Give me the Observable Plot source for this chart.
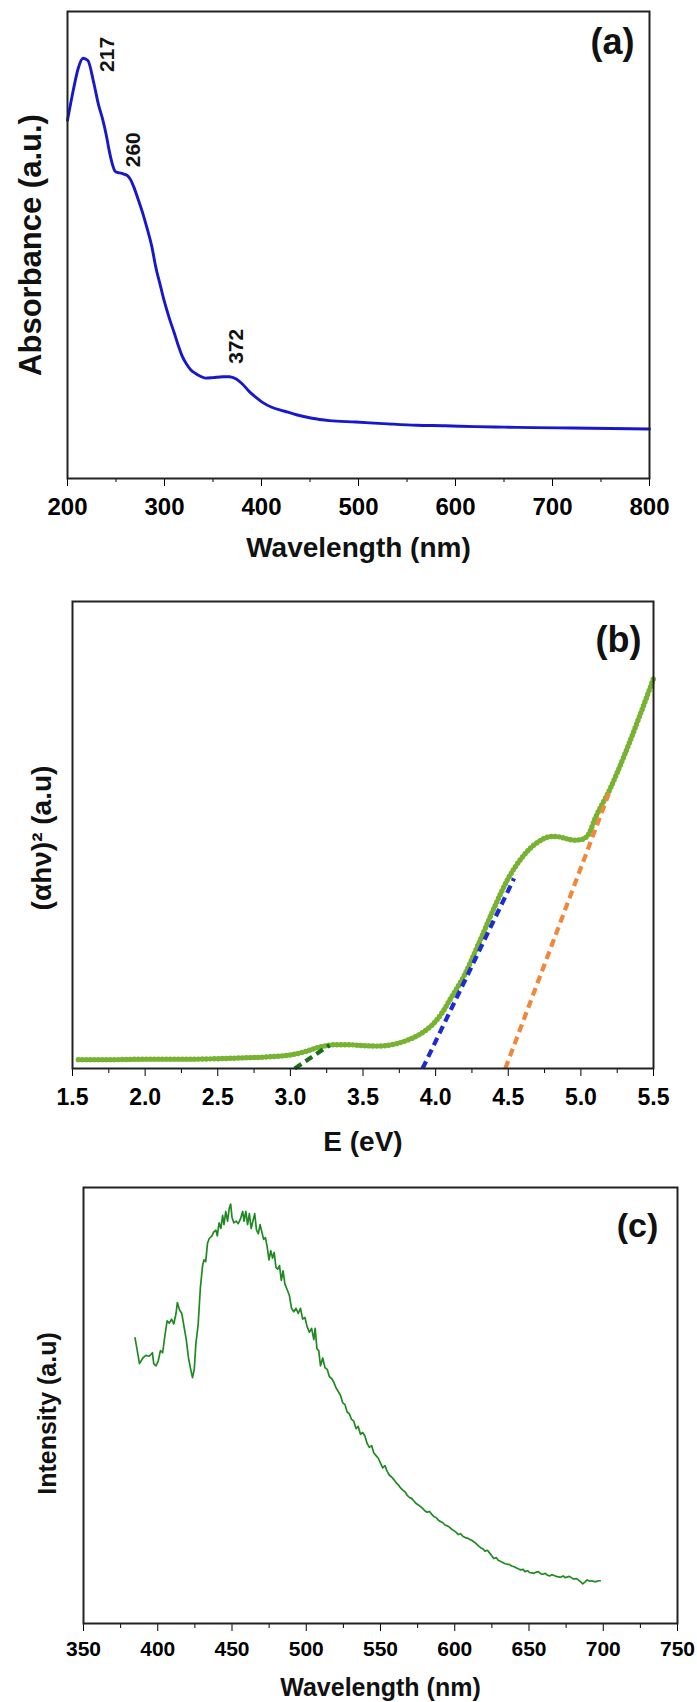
<!DOCTYPE html>
<html><head><meta charset="utf-8">
<script src="https://cdn.jsdelivr.net/npm/d3@7"></script>
<script src="https://cdn.jsdelivr.net/npm/@observablehq/plot@0.6"></script>
<style>
html,body{margin:0;padding:0;background:#fff;}
#root{width:697px;}
#root svg{display:block;}
</style></head><body><div id="root"></div>
<script>
// ---------- Panel (a): UV-Vis absorbance ----------
const absWavelength = [200,206,211,216,221,227,232,236,240,243,246,249,252,255,258,261.5,265,268,272,277,282,287,291,296,300,305,310,314,318,323,327,332,337,342,350,360,367,374,380,387.5,394,401,410,424,437,452,470,497,530,560,589,620,650,681,720,760,800];
const absValue =      [0.767,0.832,0.878,0.900,0.895,0.848,0.80,0.771,0.735,0.702,0.675,0.658,0.655,0.654,0.652,0.649,0.640,0.626,0.603,0.572,0.536,0.496,0.453,0.411,0.378,0.343,0.312,0.286,0.263,0.244,0.233,0.225,0.219,0.215,0.216,0.218,0.218,0.213,0.203,0.186,0.174,0.163,0.153,0.144,0.136,0.129,0.124,0.121,0.117,0.114,0.113,0.111,0.110,0.109,0.108,0.107,0.106];
const absPeakLabels = ["217", "260", "372"];
const absPeakX = [241, 268, 374];
const absPeakY = [0.908, 0.704, 0.283];
const absTicks = [200, 300, 400, 500, 600, 700, 800];
const absMinorTicks = [250, 350, 450, 550, 650, 750];

// ---------- Panel (b): Tauc plot ----------
const taucE =     [1.54,1.8,2.0,2.3,2.5,2.7,2.8,2.9,3.0,3.05,3.1,3.15,3.2,3.25,3.3,3.4,3.5,3.6,3.7,3.8,3.9,4.0,4.05,4.1,4.2,4.3,4.4,4.5,4.6,4.7,4.75,4.8,4.85,4.9,4.95,5.0,5.05,5.1,5.2,5.3,5.4,5.5];
const taucValue = [0.019,0.019,0.020,0.020,0.021,0.023,0.024,0.026,0.029,0.032,0.036,0.041,0.046,0.049,0.051,0.051,0.049,0.048,0.051,0.060,0.075,0.101,0.122,0.148,0.201,0.270,0.342,0.407,0.454,0.484,0.493,0.497,0.496,0.492,0.489,0.490,0.500,0.537,0.598,0.671,0.751,0.835];
const tangentNames = ["green", "blue", "orange"];
const tangentE1 = [3.03, 3.91, 4.48];
const tangentY1 = [0, 0, 0];
const tangentE2 = [3.27, 4.54, 5.20];
const tangentY2 = [0.050, 0.407, 0.595];
const tangentColors = ["#1d6b1d", "#1d2bd3", "#f0883c"];
const taucTicks = [1.5, 2.0, 2.5, 3.0, 3.5, 4.0, 4.5, 5.0, 5.5];
const taucMinorTicks = [1.75, 2.25, 2.75, 3.25, 3.75, 4.25, 4.75, 5.25];

// ---------- Panel (c): photoluminescence ----------
const plWavelength = [384.7,386,387.7,390,392,394.3,396.4,397.3,398.8,400.3,401.8,403.3,404.8,406.3,407.8,409.3,410.8,412.3,413.2,414.7,416.2,417.7,419.2,420.7,422.2,423.4,424.6,425.7,427.2,428.7,430.2,431.1,432.3,433.5,434.7,436.5,437.7,439.2,440.1,441.3,442.5,443.7,444.6,445.8,447,448.2,449.1,450,451.2,452.7,454.2,455.7,457.2,458.1,459.3,460.5,461.7,462.9,464.1,465.3,466.5,467.7,468.9,470.1,471.3,472.5,473.7,474.9,476.1,477.3,478.4,479.6,480.8,482,483.2,484.4,485.6,487.1,488.6,490.1,491.6,493.1,494.6,496.1,497.6,499.1,500.6,502.1,503.6,505.1,506,507.2,508.4,509.6,511.1,512.6,514.1,515.6,517.1,518.6,520.1,521.6,523.1,524.6,526.1,527.5,529,530.5,532,533.5,535,536.5,538,539.5,541,542.5,544,545.5,547,548.5,550,551.5,553,554.5,556,557.5,559,560.5,562,563.5,565,566.5,568,569.5,571,572.5,574,575.5,577,578.4,580,581.4,583,584.4,586,587.4,589,590.4,592,593.4,595,596.4,598,599.4,601,602.4,604,605.4,607,608.4,610,611.4,613,614.4,616,617.4,619,620.4,622,623.4,625,626.3,628,629.3,631,632.3,634,635.3,637,638.3,640,641.3,643,644.3,646,647.3,649,650.3,652,653.3,655,656.3,658,659.3,661,662.3,664,665.3,667,668.3,670,671.3,673,674.3,676,677.2,679,680.2,682,683.2,685,686.2,688,689.2,691,692.2,694,695.2,697,698,700.3];
const plValue = [0.655,0.63,0.596,0.609,0.615,0.613,0.621,0.596,0.591,0.602,0.626,0.621,0.66,0.694,0.689,0.698,0.687,0.711,0.736,0.719,0.711,0.681,0.651,0.609,0.583,0.564,0.583,0.643,0.685,0.77,0.821,0.834,0.83,0.872,0.883,0.889,0.898,0.902,0.889,0.919,0.906,0.936,0.915,0.945,0.923,0.953,0.962,0.932,0.919,0.923,0.917,0.928,0.945,0.923,0.945,0.915,0.94,0.906,0.923,0.94,0.902,0.894,0.915,0.898,0.881,0.885,0.864,0.834,0.855,0.838,0.851,0.817,0.813,0.821,0.787,0.809,0.779,0.766,0.753,0.723,0.715,0.723,0.711,0.723,0.698,0.702,0.681,0.668,0.677,0.651,0.677,0.63,0.626,0.591,0.609,0.587,0.583,0.566,0.562,0.553,0.54,0.532,0.523,0.506,0.502,0.485,0.481,0.468,0.464,0.447,0.452,0.434,0.438,0.43,0.413,0.404,0.408,0.391,0.385,0.379,0.368,0.357,0.362,0.349,0.34,0.336,0.33,0.323,0.318,0.311,0.306,0.302,0.294,0.289,0.287,0.281,0.275,0.272,0.268,0.264,0.258,0.255,0.257,0.251,0.245,0.243,0.237,0.234,0.231,0.226,0.224,0.221,0.216,0.213,0.209,0.204,0.206,0.2,0.197,0.196,0.193,0.191,0.187,0.183,0.178,0.174,0.171,0.166,0.168,0.162,0.155,0.149,0.151,0.145,0.142,0.14,0.137,0.136,0.135,0.132,0.13,0.128,0.125,0.123,0.124,0.119,0.121,0.117,0.116,0.115,0.118,0.119,0.114,0.113,0.115,0.111,0.109,0.112,0.11,0.108,0.107,0.106,0.109,0.105,0.107,0.108,0.104,0.102,0.103,0.1,0.095,0.091,0.096,0.1,0.097,0.098,0.096,0.096,0.098,0.098];
const plTicks = [350, 400, 450, 500, 550, 600, 650, 700, 750];
const plMinorTicks = [375, 425, 475, 525, 575, 625, 675, 725];

const FONT = "'Liberation Sans', Arial, Helvetica, sans-serif";
const baseStyle = {fontFamily: FONT, fontWeight: "bold", color: "black", background: "white", overflow: "visible"};
const centered = {textAnchor: "middle", lineAnchor: "middle", fontWeight: "bold", fill: "#111"};

const absData = absWavelength.map((x, i) => ({x, y: absValue[i]}));
const absLabels = absPeakLabels.map((t, i) => ({t, x: absPeakX[i], y: absPeakY[i]}));
const taucData = taucE.map((x, i) => ({x, y: taucValue[i]}));
const tangents = tangentNames.map((n, i) => ({n, x1: tangentE1[i], y1: tangentY1[i], x2: tangentE2[i], y2: tangentY2[i], c: tangentColors[i]}));
const plData = plWavelength.map((x, i) => ({x, y: plValue[i]}));

const chartA = Plot.plot({
  width: 697, height: 575,
  marginTop: 11, marginBottom: 97, marginLeft: 67, marginRight: 48,
  style: baseStyle,
  x: {domain: [200, 800]},
  y: {domain: [0, 1], axis: null},
  marks: [
    Plot.line(absData, {x: "x", y: "y", stroke: "#1717cc", strokeWidth: 2.9, curve: "monotone-x"}),
    Plot.text(absLabels, {x: "x", y: "y", text: "t", rotate: -90, fontSize: 21, ...centered}),
    Plot.text(["(a)"], {frameAnchor: "top-right", dx: -37, dy: 31, fontSize: 36, ...centered}),
    Plot.axisX({ticks: absMinorTicks, tickSize: 4, tickFormat: () => "", label: null}),
    Plot.axisX({ticks: absTicks, tickSize: 8, tickPadding: 11, fontSize: 24, fontWeight: "bold", tickFormat: d => String(d), label: null}),
    Plot.text(["Absorbance (a.u.)"], {frameAnchor: "left", dx: -36, rotate: -90, fontSize: 31, ...centered}),
    Plot.text(["Wavelength (nm)"], {frameAnchor: "bottom", dy: 70, fontSize: 28, ...centered}),
    Plot.frame({stroke: "#222", strokeWidth: 2})
  ]
});

const chartB = Plot.plot({
  width: 697, height: 590,
  marginTop: 26, marginBottom: 97, marginLeft: 72, marginRight: 44,
  style: baseStyle,
  x: {domain: [1.5, 5.5]},
  y: {domain: [0, 1], axis: null},
  marks: [
    Plot.line(taucData, {x: "x", y: "y", stroke: "#8cc63f", strokeWidth: 4, curve: "monotone-x"}),
    Plot.line(taucData, {x: "x", y: "y", stroke: "#78b232", strokeWidth: 5.4, strokeDasharray: "0 4", strokeLinecap: "round", curve: "monotone-x"}),
    Plot.link(tangents, {x1: "x1", y1: "y1", x2: "x2", y2: "y2", stroke: "c", strokeWidth: 4.2, strokeDasharray: "8 5"}),
    Plot.text(["(b)"], {frameAnchor: "top-right", dx: -35, dy: 39, fontSize: 36, ...centered}),
    Plot.axisX({ticks: taucMinorTicks, tickSize: 5, tickFormat: () => "", label: null}),
    Plot.axisX({ticks: taucTicks, tickSize: 8, tickPadding: 12, fontSize: 23, fontWeight: "bold", tickFormat: d => d.toFixed(1), label: null}),
    Plot.text(["(αhν)² (a.u)"], {frameAnchor: "left", dx: -30, dy: 3, rotate: -90, fontSize: 28, ...centered}),
    Plot.text(["E (eV)"], {frameAnchor: "bottom", dy: 74, fontSize: 28, ...centered}),
    Plot.frame({stroke: "#222", strokeWidth: 2})
  ]
});

const chartC = Plot.plot({
  width: 697, height: 537,
  marginTop: 22, marginBottom: 79, marginLeft: 83, marginRight: 20,
  style: baseStyle,
  x: {domain: [350, 750]},
  y: {domain: [0, 1], axis: null},
  marks: [
    Plot.line(plData, {x: "x", y: "y", stroke: "#1f8a22", strokeWidth: 1.7}),
    Plot.text(["(c)"], {frameAnchor: "top-right", dx: -40, dy: 39, fontSize: 34, ...centered}),
    Plot.axisX({ticks: plMinorTicks, tickSize: 5, tickFormat: () => "", label: null}),
    Plot.axisX({ticks: plTicks, tickSize: 8, tickPadding: 10, fontSize: 21, fontWeight: "bold", tickFormat: d => String(d), label: null}),
    Plot.text(["Intensity (a.u)"], {frameAnchor: "left", dx: -36, dy: 8, rotate: -90, fontSize: 25, ...centered}),
    Plot.text(["Wavelength (nm)"], {frameAnchor: "bottom", dy: 64, fontSize: 25, ...centered}),
    Plot.frame({stroke: "#222", strokeWidth: 2})
  ]
});

const root = document.getElementById("root");
root.append(chartA, chartB, chartC);
</script>
</body></html>
